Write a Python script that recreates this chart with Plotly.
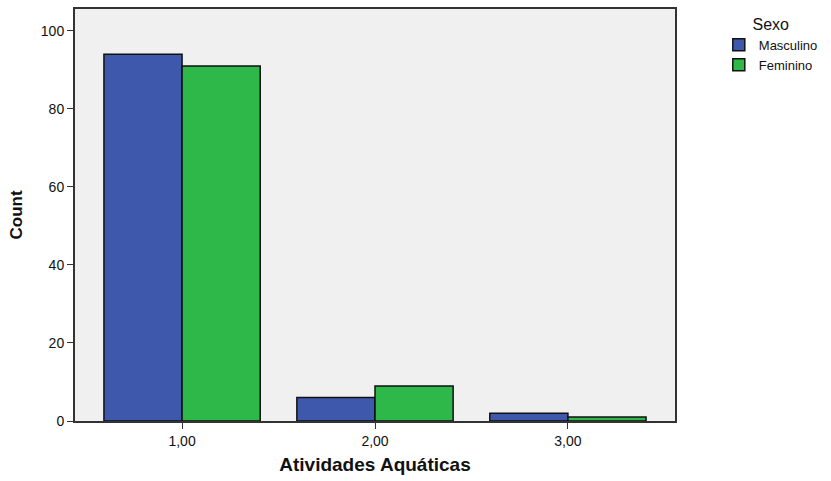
import plotly.graph_objects as go

categories = ["1,00", "2,00", "3,00"]
masculino = [94, 6, 2]
feminino = [91, 9, 1]

fig = go.Figure()
fig.add_trace(go.Bar(x=categories, y=masculino, name="Masculino",
                     marker=dict(color="#3e58ac", line=dict(color="#111111", width=1.5))))
fig.add_trace(go.Bar(x=categories, y=feminino, name="Feminino",
                     marker=dict(color="#2fb84a", line=dict(color="#111111", width=1.5))))

fig.update_layout(
    width=831, height=481,
    margin=dict(l=75, r=156, t=7, b=60),
    paper_bgcolor="white", plot_bgcolor="#f0f0f0",
    barmode="group", bargap=0.19, bargroupgap=0,
    font=dict(family="Liberation Sans, Arial, sans-serif", size=14, color="#111111"),
    showlegend=True,
    legend=dict(title=dict(text="Sexo", font=dict(size=16), side="top center"),
                x=1.073, y=1.0, xanchor="left", yanchor="top",
                font=dict(size=13), itemwidth=30, tracegroupgap=0,
                bgcolor="rgba(0,0,0,0)"),
    xaxis=dict(type="category", range=[-0.555, 2.555],
               showline=True, linecolor="#333333", linewidth=2, mirror=True,
               ticks="outside", ticklen=6, tickcolor="#333333", tickwidth=1,
               title=dict(text="<b>Atividades Aquáticas</b>",
                          font=dict(size=19, family="Liberation Sans, Arial, sans-serif"),
                          standoff=10),
               showgrid=False, zeroline=False),
    yaxis=dict(range=[0, 105.6], tickvals=[0, 20, 40, 60, 80, 100],
               showline=True, linecolor="#333333", linewidth=2, mirror=True,
               ticks="outside", ticklen=6, tickcolor="#333333", tickwidth=1,
               title=dict(text="<b>Count</b>",
                          font=dict(size=17, family="Liberation Sans Narrow, Arial Narrow, Liberation Sans, sans-serif"),
                          standoff=14),
               showgrid=False, zeroline=False),
)

fig.write_html("out.html", config={"displayModeBar": False},
               post_script="document.body.style.margin='0';document.body.style.overflow='hidden';")
